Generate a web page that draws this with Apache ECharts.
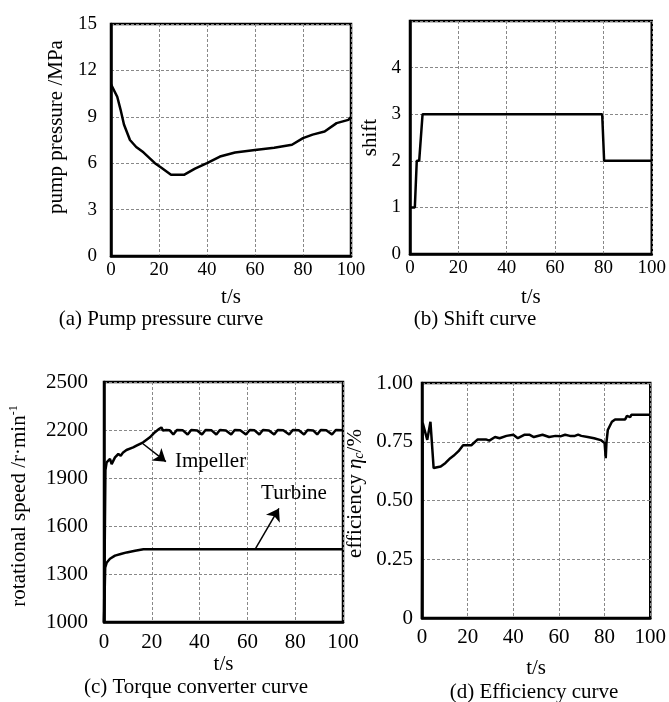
<!DOCTYPE html>
<html>
<head>
<meta charset="utf-8">
<script src="https://cdn.jsdelivr.net/npm/echarts@6/dist/echarts.min.js"></script>
<style>
    html, body { margin: 0; padding: 0; background: #fff; }
    #chart_con { width: 669px; height: 702px; }
</style>
</head>
<body>
<div id="chart_con"></div>
<script>
    // (a) pump pressure
    var pumpT = [0, 2.6, 4, 5.4, 7.9, 10.5, 13.5, 18.3, 21, 25, 30.4, 35, 40, 45.4, 51.7, 60, 68, 75.4, 80, 84, 89, 94, 98.9, 100];
    var pumpP = [11.1, 10.3, 9.45, 8.5, 7.5, 7.05, 6.7, 6.0, 5.7, 5.25, 5.25, 5.65, 6.0, 6.43, 6.69, 6.85, 7.0, 7.19, 7.62, 7.85, 8.05, 8.59, 8.8, 8.98];

    // (b) shift
    var shiftT = [0, 2, 2.8, 3.8, 5.2, 79.5, 80.3, 100];
    var shiftV = [1, 1, 2, 2, 3, 3, 2, 2];

    // (c) impeller / turbine speed
    var impT = [0, 0.6, 1.1, 2.5, 3.2, 4.6, 6, 7, 8, 9.4, 12.2, 13.6, 16.4, 19.2, 21.2, 23, 24, 24.7,
        26, 27.5, 29, 30.5, 33, 35, 36.5, 39, 41, 42.5, 45, 47, 48.5, 51, 53.2, 54.7, 57, 59.4,
        61, 63, 65, 66.5, 69, 71.2, 72.7, 75, 77.5, 79, 81.5, 83.7, 85.2, 87.5, 89.2, 90.7, 93, 95.4, 97, 100];
    var impV = [1000, 1950, 1998, 2019, 1987, 2029, 2050, 2039, 2060, 2075, 2091, 2102, 2123, 2154, 2185, 2206, 2216, 2196,
        2200, 2198, 2172, 2200, 2198, 2172, 2200, 2197, 2172, 2200, 2198, 2172, 2200, 2197, 2172, 2200, 2198, 2172,
        2200, 2198, 2172, 2200, 2197, 2172, 2200, 2198, 2172, 2200, 2198, 2172, 2200, 2197, 2172, 2200, 2198, 2172, 2200, 2198];
    var turbT = [0, 0.5, 1.1, 2.5, 4.6, 7, 9.5, 13, 16.5, 100];
    var turbV = [1000, 1340, 1370, 1395, 1415, 1425, 1435, 1445, 1455, 1455];

    // (d) efficiency
    var effT = [0, 0.3, 1.1, 2.3, 3.7, 5.1, 8.2, 10.3, 12.4, 13.8, 16, 18, 21.6, 24.4, 28, 29.5, 32, 34, 37, 40, 42, 45, 47, 49,
        52.8, 55.7, 58.5, 60.6, 62.7, 64.8, 67, 68.4, 69.8, 72.6, 75.4, 78.3, 80, 80.5, 80.8, 81.4, 83.2, 84.6, 89, 89.8, 91.2, 91.8, 100];
    var effV = [0, 0.83, 0.83, 0.758, 0.835, 0.638, 0.645, 0.66, 0.68, 0.69, 0.71, 0.735, 0.735, 0.76, 0.76, 0.755, 0.77, 0.765, 0.775, 0.78, 0.765, 0.78, 0.78, 0.77,
        0.78, 0.77, 0.775, 0.773, 0.78, 0.775, 0.775, 0.78, 0.775, 0.77, 0.765, 0.757, 0.745, 0.68, 0.745, 0.80, 0.835, 0.845, 0.845, 0.86, 0.855, 0.865, 0.865];

    // ticks
    var xTicks = [0, 20, 40, 60, 80, 100];
    var pumpTicks = [0, 3, 6, 9, 12, 15];
    var shiftTicks = [0, 1, 2, 3, 4];
    var speedTicks = [1000, 1300, 1600, 1900, 2200, 2500];
    var effTicks = ['0', '0.25', '0.50', '0.75', '1.00'];

    // annotations (data coords)
    var impArrow = [[16.3, 2114], [25.9, 2002]];
    var impLabel = [29.5, 2002];
    var turbArrow = [[63.2, 1454], [73.2, 1710]];
    var turbLabel = [65.5, 1806];

    var captions = ['(a) Pump pressure curve', '(b) Shift curve', '(c) Torque converter curve', '(d) Efficiency curve'];

    function pairs(xs, ys) {
        return xs.map(function (x, i) { return [x, ys[i]]; });
    }

    var FONT = 'Liberation Serif';

    function xAxisOf(idx, fs, margin, gap) {
        return {
            type: 'value', gridIndex: idx, min: xTicks[0], max: xTicks[xTicks.length - 1], interval: 20,
            name: 't/s', nameLocation: 'middle', nameGap: gap,
            nameTextStyle: {fontFamily: FONT, fontSize: 21, color: '#000'},
            axisLine: {lineStyle: {color: '#000', width: 2.5}},
            axisTick: {show: false},
            axisLabel: {fontFamily: FONT, fontSize: fs, color: '#000', margin: margin},
            splitLine: {lineStyle: {color: '#888', type: [3, 2], width: 1}}
        };
    }

    function yAxisOf(idx, o) {
        return {
            type: 'value', gridIndex: idx, min: o.min, max: o.max, interval: o.interval,
            name: o.name, nameLocation: 'middle', nameGap: o.gap,
            nameTextStyle: {fontFamily: FONT, fontSize: 21, color: '#000', padding: o.pad || 0, rich: o.rich},
            axisLine: {lineStyle: {color: '#000', width: 2.5}},
            axisTick: {show: false},
            axisLabel: {fontFamily: FONT, fontSize: o.fs, color: '#000', margin: o.margin,
                showMaxLabel: o.showMax, formatter: o.fmt || function (v) { return String(v); }},
            splitLine: {lineStyle: {color: '#888', type: [3, 2], width: 1}}
        };
    }

    var lineStyle = {color: '#000', width: 2.5};
    var captionStyle = {font: '21px "Liberation Serif"', fill: '#000', align: 'center', verticalAlign: 'middle'};

    var chart = echarts.init(document.getElementById('chart_con'));
    chart.setOption({
        animation: false,
        backgroundColor: '#fff',
        grid: [
            {left: 111, top: 24, width: 240, height: 232, show: true, borderColor: '#000', borderWidth: 2.5},
            {left: 410, top: 21, width: 246, height: 233, show: true, borderColor: '#000', borderWidth: 2.5},
            {left: 104, top: 382, width: 239, height: 240, show: true, borderColor: '#000', borderWidth: 2.5},
            {left: 422, top: 383, width: 236, height: 235, show: true, borderColor: '#000', borderWidth: 2.5}
        ],
        xAxis: [
            xAxisOf(0, 19, 5, 31),
            xAxisOf(1, 19, 5, 33),
            xAxisOf(2, 21, 10, 31),
            xAxisOf(3, 21, 9, 40)
        ],
        yAxis: [
            yAxisOf(0, {min: pumpTicks[0], max: pumpTicks[pumpTicks.length - 1], interval: 3, name: 'pump pressure /MPa',
                gap: 44, fs: 19, margin: 14, showMax: true, pad: [0, 0, 0, 26]}),
            yAxisOf(1, {min: shiftTicks[0], max: 5, interval: 1, name: 'shift',
                gap: 29, fs: 19, margin: 9, showMax: false}),
            yAxisOf(2, {min: speedTicks[0], max: speedTicks[speedTicks.length - 1], interval: 300,
                name: '{t|rotational speed /r·min}{s|-1}',
                rich: {t: {fontFamily: FONT, fontSize: 21, color: '#000'},
                    s: {fontFamily: FONT, fontSize: 12, color: '#000', verticalAlign: 'top', padding: [0, 0, 10, 0]}},
                gap: 74, fs: 21, margin: 16, showMax: true, pad: [0, 8, 0, 0]}),
            yAxisOf(3, {min: 0, max: 1, interval: 0.25,
                name: '{t|efficiency }{i|η}{c|c}{t|/%}',
                rich: {t: {fontFamily: FONT, fontSize: 21, color: '#000'},
                    i: {fontFamily: FONT, fontSize: 21, fontStyle: 'italic', color: '#000'},
                    c: {fontFamily: FONT, fontSize: 14, fontStyle: 'italic', color: '#000', padding: [8, 0, 0, 0]}},
                gap: 56, fs: 21, margin: 9, showMax: true, pad: [0, 0, 0, 14],
                fmt: function (v) { return effTicks[Math.round(v / 0.25)]; }})
        ],
        graphic: [
            {type: 'text', x: 161, y: 319, style: Object.assign({text: captions[0]}, captionStyle)},
            {type: 'text', x: 475, y: 319, style: Object.assign({text: captions[1]}, captionStyle)},
            {type: 'text', x: 196, y: 687, style: Object.assign({text: captions[2]}, captionStyle)},
            {type: 'text', x: 534, y: 692, style: Object.assign({text: captions[3]}, captionStyle)}
        ],
        series: [
            {type: 'line', xAxisIndex: 0, yAxisIndex: 0, data: pairs(pumpT, pumpP), showSymbol: false, lineStyle: lineStyle},
            {type: 'line', xAxisIndex: 1, yAxisIndex: 1, data: pairs(shiftT, shiftV), showSymbol: false, lineStyle: lineStyle},
            {
                type: 'line', xAxisIndex: 2, yAxisIndex: 2, data: pairs(impT, impV), showSymbol: false, lineStyle: lineStyle,
                markLine: {
                    silent: true, symbol: ['none', 'arrow'], symbolSize: 12,
                    lineStyle: {color: '#000', width: 1.5, type: 'solid'}, label: {show: false},
                    data: [
                        [{coord: impArrow[0], symbol: 'none'}, {coord: impArrow[1], symbol: 'arrow', symbolSize: 12}],
                        [{coord: turbArrow[0], symbol: 'none'}, {coord: turbArrow[1], symbol: 'arrow', symbolSize: 12}]
                    ]
                },
                markPoint: {
                    silent: true, symbol: 'rect', symbolSize: 1, itemStyle: {color: 'rgba(0,0,0,0)'},
                    label: {show: true, position: 'right', distance: 0, fontFamily: FONT, fontSize: 21, color: '#000'},
                    data: [
                        {coord: impLabel, label: {formatter: 'Impeller'}},
                        {coord: turbLabel, label: {formatter: 'Turbine'}}
                    ]
                }
            },
            {type: 'line', xAxisIndex: 2, yAxisIndex: 2, data: pairs(turbT, turbV), showSymbol: false, lineStyle: lineStyle},
            {type: 'line', xAxisIndex: 3, yAxisIndex: 3, data: pairs(effT, effV), showSymbol: false, lineStyle: lineStyle}
        ]
    });
</script>
</body>
</html>
